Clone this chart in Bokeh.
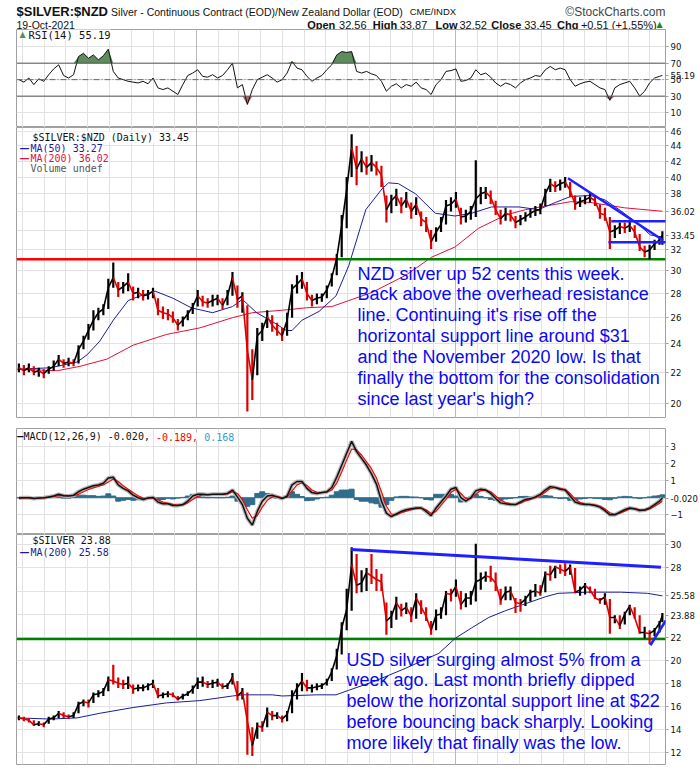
import numpy as np
import pandas as pd
from bokeh.plotting import figure
from bokeh.layouts import column
from bokeh.models import (Range1d, FixedTicker, Grid, Span, Label, LabelSet,
                          ColumnDataSource)
from bokeh.core.properties import value
from bokeh.embed import file_html
from bokeh.resources import INLINE

# ---------------- data ----------------
week_dates = pd.date_range("2019-04-26", periods=130, freq="7D").append(
    pd.DatetimeIndex(["2021-10-19"]))

nzd_close = [22.3, 22.1, 22.3, 22.0, 22.1, 21.9, 22.2, 22.4, 22.9, 22.6,
             22.7, 22.6, 23.6, 24.2, 25.0, 25.8, 26.4, 26.7, 28.5, 29.4,
             28.3, 28.6, 29.0, 28.0, 28.1, 27.8, 27.9, 28.2, 26.6, 26.4,
             26.3, 26.0, 25.4, 25.8, 26.3, 26.9, 27.8, 27.3, 27.2, 27.4,
             27.6, 27.0, 27.8, 29.4, 27.5, 27.8, 23.5, 21.5, 24.6, 25.0,
             26.1, 25.4, 25.0, 24.6, 25.8, 28.4, 28.8, 29.3, 28.0, 27.4,
             27.6, 27.7, 28.3, 29.4, 31.2, 34.5, 38.5, 43.8, 41.0, 42.3,
             41.2, 41.8, 41.2, 40.2, 36.2, 37.2, 37.8, 36.6, 37.4, 36.0,
             36.8, 35.2, 34.8, 32.8, 33.8, 34.6, 36.6, 36.8, 37.4, 35.4,
             35.5, 36.0, 37.4, 38.0, 38.2, 37.6, 36.2, 35.2, 35.8, 35.6,
             34.8, 35.1, 35.4, 35.8, 36.1, 36.2, 38.0, 39.2, 38.8, 39.2,
             39.4, 38.4, 36.8, 37.1, 37.3, 37.6, 37.2, 35.8, 35.6, 33.8,
             34.0, 34.4, 34.2, 34.5, 33.8, 32.3, 31.8, 32.0, 32.6, 33.0,
             33.45]
nzd_high = [22.6, 22.5, 22.6, 22.4, 22.3, 22.2, 22.4, 22.8, 23.2, 22.9,
            23.0, 22.9, 23.9, 24.6, 25.5, 26.6, 26.8, 27.1, 29.3, 30.8,
            29.0, 29.0, 29.8, 28.6, 28.5, 28.3, 28.3, 28.5, 27.6, 26.9,
            26.7, 26.5, 25.9, 26.1, 26.6, 27.2, 28.3, 27.8, 27.6, 27.9,
            27.9, 27.6, 28.3, 29.9, 28.7, 28.1, 27.0, 23.6, 25.2, 25.6,
            26.6, 26.2, 25.6, 25.2, 26.4, 28.8, 29.6, 29.9, 29.0, 27.9,
            28.0, 28.0, 28.7, 29.8, 31.6, 35.6, 40.0, 45.6, 44.0, 43.3,
            42.6, 42.8, 42.0, 41.4, 37.8, 37.9, 38.6, 37.6, 38.2, 37.0,
            37.6, 36.0, 35.4, 34.0, 34.3, 35.4, 37.3, 37.6, 38.2, 36.4,
            36.2, 36.6, 42.1, 38.8, 38.8, 38.4, 37.2, 36.2, 36.4, 36.2,
            35.5, 35.6, 35.9, 36.3, 36.6, 36.9, 38.6, 39.8, 39.5, 39.7,
            40.0, 39.4, 37.8, 37.6, 37.8, 38.1, 37.8, 36.8, 36.4, 35.4,
            34.5, 34.8, 34.8, 34.9, 34.5, 33.6, 32.4, 32.5, 33.0, 33.4,
            33.87]
nzd_low = [22.0, 21.8, 22.0, 21.8, 21.7, 21.6, 21.9, 22.1, 22.4, 22.3,
           22.4, 22.4, 22.6, 23.6, 24.3, 25.0, 25.8, 26.2, 26.7, 28.5,
           27.7, 28.0, 28.2, 27.4, 27.6, 27.4, 27.5, 27.6, 26.2, 25.9,
           25.8, 25.6, 25.0, 25.3, 25.8, 26.3, 26.9, 26.9, 26.8, 26.9,
           27.0, 26.7, 27.0, 27.8, 26.8, 26.4, 19.5, 20.2, 21.8, 24.2,
           25.2, 24.9, 24.6, 24.2, 24.6, 26.0, 28.0, 28.4, 27.4, 26.9,
           27.1, 27.3, 27.6, 28.6, 29.6, 31.3, 34.2, 40.0, 39.0, 40.6,
           40.3, 40.7, 40.2, 38.8, 34.8, 35.8, 36.6, 35.8, 36.4, 35.2,
           35.6, 34.4, 33.8, 32.1, 32.8, 33.8, 34.6, 36.0, 36.4, 34.6,
           34.8, 35.1, 35.4, 36.8, 37.4, 36.8, 35.6, 34.6, 35.0, 34.9,
           34.2, 34.5, 34.9, 35.3, 35.5, 35.7, 36.6, 38.2, 38.2, 38.4,
           38.7, 37.6, 36.2, 36.5, 36.8, 37.0, 36.6, 35.2, 35.0, 32.1,
           33.2, 33.6, 33.7, 33.8, 33.2, 31.9, 31.3, 31.1, 32.0, 32.5,
           32.52]

nzd_ma50_dates = ["2019-04-24", "2019-06-09", "2019-07-17", "2019-07-31", "2019-08-18",
                  "2019-09-06", "2019-09-27", "2019-10-14", "2019-11-04", "2019-11-29",
                  "2019-12-25", "2020-01-24", "2020-02-21", "2020-03-06", "2020-03-26",
                  "2020-04-17", "2020-05-07", "2020-05-15", "2020-05-29", "2020-06-22",
                  "2020-07-16", "2020-08-03", "2020-08-27", "2020-09-19", "2020-09-28",
                  "2020-10-12", "2020-11-05", "2020-12-03", "2020-12-31", "2021-01-23",
                  "2021-02-20", "2021-03-31", "2021-04-27", "2021-05-21", "2021-06-12",
                  "2021-07-10", "2021-07-30", "2021-08-21", "2021-09-14", "2021-10-02",
                  "2021-10-19"]
nzd_ma50 = [22.2, 22.3, 22.7, 23.2, 24.2, 25.8, 27.4, 27.8, 28.2, 27.6,
            26.8, 26.4, 26.9, 27.5, 26.4, 25.7, 25.0, 25.0, 25.8, 26.5,
            27.8, 30.5, 36.2, 38.6, 39.3, 39.2, 38.0, 35.8, 35.5, 35.8,
            36.5, 36.5, 36.2, 37.0, 37.7, 37.8, 37.3, 36.1, 34.7, 33.5,
            33.27]

nzd_ma200_dates = ["2019-04-24", "2019-06-19", "2019-07-21", "2019-08-28", "2019-10-04",
                   "2019-11-20", "2020-01-06", "2020-02-21", "2020-03-20", "2020-05-01",
                   "2020-06-04", "2020-07-10", "2020-08-03", "2020-09-05", "2020-10-22",
                   "2020-11-28", "2020-12-31", "2021-02-02", "2021-03-12", "2021-04-09",
                   "2021-05-07", "2021-06-12", "2021-07-10", "2021-08-27", "2021-10-19"]
nzd_ma200 = [22.2, 22.1, 22.4, 22.9, 23.9, 24.7, 25.2, 26.0, 26.4, 26.6,
             26.8, 26.9, 27.4, 28.1, 29.6, 31.3, 32.3, 34.2, 35.6, 36.2,
             36.6, 37.1, 37.0, 36.4, 36.02]

rsi = [50, 47, 52, 44, 51, 48, 56, 63, 68, 55,
       52, 56, 78, 82, 76, 80, 74, 79, 87, 60,
       52, 50, 48, 47, 46, 48, 45, 52, 40, 38,
       40, 36, 32, 44, 55, 58, 62, 54, 53, 56,
       52, 55, 62, 70, 40, 44, 20, 38, 50, 53,
       56, 52, 47, 50, 58, 72, 64, 62, 54, 48,
       52, 55, 62, 68, 80, 84, 83, 84, 60, 58,
       60, 57, 55, 48, 36, 42, 45, 40, 44, 42,
       47, 40, 38, 32, 44, 50, 60, 61, 63, 48,
       49, 52, 62, 56, 58, 53, 46, 42, 46, 44,
       40, 46, 50, 52, 55, 54, 62, 66, 62, 64,
       62, 50, 42, 45, 47, 48, 44, 40, 38, 25,
       40, 44, 46, 48, 40, 30, 36, 46, 52, 54,
       55.19]

macd = [-0.02, 0.0, 0.0, -0.05, -0.02, 0.0, 0.05, 0.1, 0.2, 0.12,
        0.1, 0.15, 0.35, 0.5, 0.6, 0.7, 0.75, 0.85, 1.15, 1.2,
        0.75, 0.55, 0.4, 0.15, 0.0, -0.1, -0.02, 0.02, -0.25, -0.35,
        -0.35, -0.45, -0.45, -0.4, -0.2, 0.1, 0.2, 0.2, 0.18, 0.2,
        0.2, 0.2, 0.25, 0.45, 0.05, -0.4, -1.2, -1.6, -0.8, -0.2,
        0.1, 0.15, 0.05, -0.05, 0.1, 0.75, 0.95, 0.95, 0.55, 0.3,
        0.25, 0.3, 0.35, 0.6, 1.2, 1.9, 2.6, 3.3, 2.7, 2.3,
        1.9, 1.4, 0.8, -0.2, -0.9, -1.1, -0.95, -0.8, -0.7, -0.65,
        -0.6, -0.6, -0.8, -1.05, -0.6, -0.25, 0.1, 0.5, 0.6, 0.0,
        -0.2, 0.0, 0.4, 0.5, 0.45, 0.25, -0.05, -0.3, -0.35, -0.4,
        -0.4, -0.25, -0.1, -0.05, 0.05, 0.2, 0.45, 0.65, 0.6, 0.5,
        0.45, 0.1, -0.25, -0.35, -0.4, -0.4, -0.45, -0.55, -0.75, -1.0,
        -1.0, -0.85, -0.7, -0.6, -0.65, -0.75, -0.72, -0.6, -0.4, -0.2,
        -0.02]
macd_signal = [-0.02, -0.01, 0.0, -0.02, -0.03, -0.01, 0.02, 0.06, 0.12, 0.14,
               0.12, 0.12, 0.2, 0.35, 0.48, 0.58, 0.67, 0.75, 0.92, 1.1,
               0.95, 0.7, 0.5, 0.3, 0.12, -0.02, -0.03, 0.0, -0.12, -0.25,
               -0.32, -0.38, -0.43, -0.42, -0.3, -0.1, 0.08, 0.16, 0.18, 0.19,
               0.2, 0.2, 0.22, 0.35, 0.25, -0.1, -0.7, -1.2, -1.05, -0.55,
               -0.15, 0.05, 0.08, 0.0, 0.02, 0.4, 0.75, 0.88, 0.72, 0.45,
               0.32, 0.3, 0.32, 0.45, 0.85, 1.5, 2.2, 2.85, 2.8, 2.5,
               2.1, 1.7, 1.15, 0.35, -0.5, -0.95, -1.0, -0.88, -0.78, -0.7,
               -0.64, -0.6, -0.7, -0.92, -0.8, -0.45, -0.1, 0.3, 0.5, 0.25,
               -0.05, -0.05, 0.2, 0.42, 0.45, 0.35, 0.1, -0.15, -0.28, -0.36,
               -0.4, -0.32, -0.18, -0.1, 0.0, 0.12, 0.32, 0.55, 0.6, 0.55,
               0.48, 0.25, -0.08, -0.28, -0.36, -0.4, -0.42, -0.5, -0.65, -0.88,
               -0.97, -0.9, -0.78, -0.66, -0.64, -0.7, -0.72, -0.65, -0.5, -0.32,
               -0.189]
macd_hist = [0.0, 0.01, 0.0, -0.03, 0.01, 0.01, 0.03, 0.04, 0.08, -0.02,
             -0.02, 0.03, 0.15, 0.15, 0.12, 0.12, 0.08, 0.1, 0.23, 0.1,
             -0.2, -0.15, -0.1, -0.15, -0.12, -0.08, 0.01, 0.02, -0.13, -0.1,
             -0.03, -0.07, -0.02, 0.02, 0.1, 0.2, 0.12, 0.04, 0.0, 0.01,
             0.0, 0.0, 0.03, 0.1, -0.2, -0.3, -0.5, -0.4, 0.25, 0.35,
             0.25, 0.1, -0.03, -0.05, 0.08, 0.35, 0.2, 0.07, -0.17, -0.15,
             -0.07, 0.0, 0.03, 0.15, 0.35, 0.45, 0.45, 0.5, -0.1, -0.2,
             -0.2, -0.3, -0.35, -0.55, -0.4, -0.15, 0.05, 0.08, 0.08, 0.05,
             0.04, 0.0, -0.1, -0.13, 0.2, 0.2, 0.2, 0.2, 0.1, -0.25,
             -0.15, 0.05, 0.2, 0.08, 0.0, -0.1, -0.15, -0.15, -0.07, -0.04,
             0.0, 0.07, 0.08, 0.05, 0.05, 0.08, 0.13, 0.1, 0.0, -0.05,
             -0.03, -0.15, -0.17, -0.07, -0.04, 0.0, -0.03, -0.05, -0.1, -0.12,
             -0.03, 0.05, 0.08, 0.06, -0.01, -0.05, 0.0, 0.05, 0.1, 0.12,
             0.168]

usd_close = [15.0, 14.9, 14.8, 14.4, 14.5, 14.4, 14.9, 15.0, 15.4, 15.2,
             15.1, 15.2, 16.2, 16.4, 16.3, 17.0, 17.1, 17.3, 18.3, 18.2,
             18.0, 17.9, 18.0, 17.5, 17.6, 17.6, 17.8, 18.0, 16.9, 17.0,
             17.1, 17.0, 16.6, 16.9, 17.1, 17.5, 18.1, 18.1, 17.9, 18.0,
             18.1, 17.7, 17.8, 18.5, 16.9, 17.3, 14.7, 12.6, 14.3, 14.2,
             15.5, 15.2, 15.2, 14.9, 15.3, 16.8, 17.6, 18.2, 17.6, 17.6,
             17.7, 17.8, 18.1, 19.0, 20.4, 22.8, 24.4, 28.3, 26.5, 26.7,
             27.6, 27.3, 27.0, 26.8, 23.4, 23.8, 25.0, 24.3, 24.6, 23.8,
             25.4, 24.6, 23.8, 22.6, 23.9, 24.0, 25.8, 25.7, 26.4, 24.8,
             25.4, 25.4, 26.8, 27.0, 27.3, 27.2, 26.7, 25.2, 25.9, 26.0,
             25.0, 24.9, 25.3, 25.9, 26.0, 25.8, 27.5, 27.4, 28.1, 27.9,
             27.7, 28.1, 25.9, 26.1, 26.5, 26.1, 25.4, 25.2, 25.5, 23.7,
             23.7, 23.0, 24.0, 24.7, 23.7, 22.4, 22.4, 22.3, 22.6, 23.2,
             23.88]
usd_high = [15.2, 15.1, 15.0, 14.8, 14.7, 14.6, 15.1, 15.2, 15.6, 15.5,
            15.3, 15.5, 16.4, 16.6, 16.6, 17.2, 17.4, 17.6, 18.6, 19.6,
            18.5, 18.3, 18.6, 17.9, 17.9, 17.9, 18.0, 18.3, 17.6, 17.2,
            17.3, 17.2, 16.9, 17.1, 17.3, 17.8, 18.5, 18.6, 18.2, 18.3,
            18.4, 18.0, 18.0, 18.9, 18.2, 17.6, 17.2, 14.2, 14.6, 14.7,
            15.9, 15.6, 15.5, 15.2, 15.6, 17.4, 18.0, 18.9, 18.3, 17.9,
            18.0, 18.0, 18.4, 19.3, 21.0, 23.3, 26.2, 29.8, 29.2, 27.8,
            28.0, 29.2, 27.9, 27.5, 25.0, 24.3, 25.5, 24.9, 25.0, 24.6,
            25.8, 25.2, 24.6, 23.4, 24.4, 24.6, 26.0, 26.2, 27.0, 26.0,
            25.8, 26.0, 30.1, 27.6, 27.7, 28.2, 27.6, 26.2, 26.4, 26.4,
            25.4, 25.3, 25.6, 26.1, 26.6, 26.5, 27.7, 28.2, 28.2, 28.3,
            28.4, 28.3, 28.0, 26.4, 26.7, 26.4, 26.2, 25.4, 25.8, 25.3,
            23.9, 23.9, 24.2, 24.8, 24.6, 23.9, 22.9, 22.6, 22.8, 23.4,
            24.1]
usd_low = [14.8, 14.7, 14.6, 14.3, 14.3, 14.2, 14.5, 14.8, 15.0, 15.0,
           14.9, 15.0, 15.4, 16.0, 15.9, 16.3, 16.8, 16.9, 17.3, 17.9,
           17.6, 17.5, 17.5, 17.1, 17.3, 17.3, 17.4, 17.6, 16.7, 16.7,
           16.8, 16.8, 16.5, 16.6, 16.9, 17.1, 17.5, 17.7, 17.6, 17.6,
           17.7, 17.5, 17.5, 17.9, 16.5, 16.6, 11.8, 11.7, 13.2, 13.8,
           14.2, 14.8, 14.9, 14.6, 14.7, 15.4, 16.6, 17.3, 17.3, 17.2,
           17.4, 17.5, 17.8, 18.2, 19.2, 20.5, 22.6, 24.3, 25.8, 25.9,
           26.0, 26.6, 26.0, 26.0, 22.2, 22.8, 23.5, 23.8, 24.0, 23.3,
           23.6, 24.0, 23.4, 22.2, 22.6, 23.6, 23.9, 25.1, 25.5, 24.4,
           24.6, 24.8, 25.1, 26.1, 26.8, 26.8, 26.0, 24.8, 25.2, 25.2,
           24.1, 24.2, 24.7, 25.1, 25.5, 25.6, 25.9, 26.9, 27.1, 27.5,
           27.3, 27.4, 25.8, 25.6, 25.7, 25.8, 25.3, 24.9, 24.8, 22.3,
           23.2, 22.7, 23.1, 23.9, 23.6, 22.3, 21.9, 21.4, 22.1, 22.4,
           23.3]

usd_ma200_dates = ["2019-04-24", "2019-06-09", "2019-07-17", "2019-08-18", "2019-10-04",
                   "2019-11-20", "2020-01-06", "2020-02-21", "2020-03-06", "2020-04-17",
                   "2020-05-01", "2020-06-18", "2020-07-16", "2020-08-03", "2020-09-05",
                   "2020-10-22", "2020-12-08", "2020-12-31", "2021-01-23", "2021-02-16",
                   "2021-03-12", "2021-04-09", "2021-05-07", "2021-05-25", "2021-07-06",
                   "2021-08-21", "2021-09-28", "2021-10-19"]
usd_ma200 = [15.0, 14.9, 15.0, 15.4, 15.9, 16.3, 16.5, 16.9, 17.0, 17.0,
             16.9, 17.0, 17.0, 17.4, 18.1, 19.3, 20.6, 21.9, 22.8, 23.7,
             24.3, 24.9, 25.5, 25.8, 25.9, 25.9, 25.8, 25.58]

# drawn annotation lines (endpoints)
nzd_support = 31.1
nzd_support_break = "2020-07-17"
nzd_trend_dates = ["2021-06-08", "2021-10-20"]
nzd_trend_vals = [39.86, 32.96]
nzd_box_top_dates = ["2021-08-08", "2021-10-24"]
nzd_box_top_vals = [34.93, 34.93]
nzd_box_bot_dates = ["2021-08-04", "2021-10-24"]
nzd_box_bot_vals = [32.76, 32.76]
usd_support = 21.83
usd_trend_dates = ["2020-08-06", "2021-10-17"]
usd_trend_vals = [29.6, 28.06]
usd_up_dates = ["2021-10-02", "2021-10-24"]
usd_up_vals = [21.3, 23.45]

month_starts = pd.date_range("2019-05-01", "2021-10-01", freq="MS")
month_labels = ["M", "J", "J", "A", "S", "O", "N", "D", "20", "F", "M", "A",
                "M", "J", "J", "A", "S", "O", "N", "D", "21", "F", "M", "A",
                "M", "J", "J", "A", "S", "O"]
rsi_ticks = [10, 30, 50, 70, 90]
price_ticks = [20, 22, 24, 26, 28, 30, 32, 34, 36, 38, 40, 42, 44, 46]
macd_ticks = [-1, 1, 2, 3]
usd_ticks = [12, 14, 16, 18, 20, 22, 24, 26, 28, 30]
# last values shown on the right-hand scales
rsi_last = {55.19: "55.19"}
nzd_last = {36.02: "36.02", 33.45: "33.45"}
macd_last = {-0.02: "-0.020"}
usd_last = {25.58: "25.58", 23.88: "23.88"}

# ---------------- helpers ----------------
def ms(d):
    return pd.Timestamp(d).value / 1e6

month_ms = [ms(d) for d in month_starts]
year_ms = [ms(d) for d, l in zip(month_starts, month_labels) if l in ("20", "21")]

xr = Range1d(ms("2019-04-22 14:00"), ms("2021-10-23 10:00"))
GRID = "#e2e2e2"
BLUE_TXT = "#0a0af2"
TICK_FONT = "DejaVu Sans"
LEG_FONT = "DejaVu Sans Mono"
HDR_FONT = "Liberation Sans"


def base_fig(h, top, bottom, yr, ticks, last, log=False):
    p = figure(width=700, height=h, x_range=xr, y_range=yr,
               y_axis_type="log" if log else "linear",
               x_axis_location=None, y_axis_location="right",
               toolbar_location=None, output_backend="svg",
               min_border_left=16, min_border_right=32,
               min_border_top=top, min_border_bottom=bottom)
    p.outline_line_color = "#a0a0a0"
    p.border_fill_color = "white"
    p.background_fill_color = "white"
    for g in p.xgrid:
        g.visible = False
    # axis labels: regular ticks not hidden by a last-value tag, plus the tags
    shown = [t for t in ticks if all(abs(t - v) > (yr.end - yr.start) * 0.035 if not log
                                     else abs(np.log10(t / v)) > 0.012 for v in last)]
    p.yaxis.ticker = FixedTicker(ticks=sorted(shown + list(last)))
    p.yaxis.major_label_overrides = {k: v for k, v in last.items()}
    p.yaxis.axis_line_color = None
    p.yaxis.major_tick_out = 3
    p.yaxis.major_tick_in = 0
    p.yaxis.major_tick_line_color = "#a0a0a0"
    p.yaxis.minor_tick_line_color = None
    p.yaxis.major_label_text_font = TICK_FONT
    p.yaxis.major_label_text_font_size = "8.5px"
    p.yaxis.major_label_text_color = "#111111"
    p.yaxis.major_label_standoff = 2
    p.ygrid.ticker = FixedTicker(ticks=ticks)
    p.ygrid.grid_line_color = GRID
    p.add_layout(Grid(dimension=0, ticker=FixedTicker(ticks=month_ms),
                      grid_line_color=GRID))
    p.add_layout(Grid(dimension=0, ticker=FixedTicker(ticks=year_ms),
                      grid_line_color="#b8b8b8"))
    return p


def label(p, text, x, y, size="10px", color="#111111", font=LEG_FONT,
          style="normal", align="left", baseline="middle", xu="screen",
          yu="screen", bg=None, border=None, **kw):
    lb = Label(x=x, y=y, x_units=xu, y_units=yu, text=text,
               text_font=font, text_font_size=size, text_color=color,
               text_font_style=style, text_align=align, text_baseline=baseline,
               background_fill_color=bg, border_line_color=border, **kw)
    p.add_layout(lb)
    return lb


def month_axis(p, y):
    reg = [(m, l) for m, l in zip(month_starts, month_labels) if l not in ("20", "21")]
    yrs = [(m, l) for m, l in zip(month_starts, month_labels) if l in ("20", "21")]
    s1 = ColumnDataSource(dict(x=[r[0] for r in reg], t=[r[1] for r in reg]))
    s2 = ColumnDataSource(dict(x=[r[0] for r in yrs], t=[r[1] for r in yrs]))
    p.add_layout(LabelSet(x="x", y=y, y_units="screen", text="t", source=s1,
                          text_align="center", text_baseline="middle",
                          text_font=value(TICK_FONT), text_font_size="9px",
                          text_color="#222222"))
    p.add_layout(LabelSet(x="x", y=y, y_units="screen", text="t", source=s2,
                          text_align="center", text_baseline="middle",
                          text_font=value(TICK_FONT), text_font_size="10px",
                          text_font_style="bold", text_color="#111111"))


def updown_colors(c):
    cols = ["black"]
    for i in range(1, len(c)):
        cols.append("#dd0000" if c[i] < c[i - 1] else "black")
    return cols


def price_marks(p, close, high, low):
    cols = updown_colors(close)
    p.segment(x0=week_dates, y0=low, x1=week_dates, y1=high, color=cols,
              line_width=2.2)
    p.segment(x0=week_dates[:-1], y0=close[:-1], x1=week_dates[1:],
              y1=close[1:], color=cols[1:], line_width=1.6)


# ---------------- header strip (frame spans x = 16..668 like the panels) ----------------
ph = figure(width=700, height=29, x_range=Range1d(16, 668), y_range=Range1d(29, 0),
            x_axis_location=None, y_axis_location=None, toolbar_location=None,
            output_backend="svg", min_border_left=16, min_border_right=32,
            min_border_top=0, min_border_bottom=0, outline_line_color=None)
for g in ph.grid:
    g.visible = False


def htext(x, y, t, size, font=HDR_FONT, style="normal", color="#111111", align="left"):
    ph.text(x=[x], y=[y], text=[t], text_font=value(font), text_font_size=size,
            text_font_style=style, text_color=color, text_align=align,
            text_baseline="middle")


htext(16, 10.5, "$SILVER:$NZD", "13px", style="bold")
htext(111, 11, "Silver - Continuous Contract (EOD)/New Zealand Dollar (EOD)", "10.5px")
htext(411, 11, "CME/INDX", "9.5px")
htext(668, 11, "\u00a9StockCharts.com", "12px", color="#444444", align="right")
htext(16, 24, "19-Oct-2021", "10.5px")
hdr = [("Open", 308, True), ("32.56", 340, False), ("High", 374, True),
       ("33.87", 401, False), ("Low", 437, True), ("32.52", 461, False),
       ("Close", 493, True), ("33.45", 526, False), ("Chg", 559, True),
       ("+0.51 (+1.55%)", 583, False)]
for t, x, b in hdr:
    htext(x, 24, t, "11px", style="bold" if b else "normal")
htext(659, 24, "\u25b2", "8px", font="DejaVu Sans", color="#1a8a1a")

# ---------------- RSI panel ----------------
p1 = base_fig(98, 0, 0, Range1d(-8, 110.8), rsi_ticks, rsi_last)
rsi_arr = np.array(rsi, dtype=float)
p1.varea(x=week_dates, y1=70, y2=np.maximum(rsi_arr, 70), color="#5d8c5d")
p1.varea(x=week_dates, y1=30, y2=np.minimum(rsi_arr, 30), color="#b8666a")
p1.add_layout(Span(location=70, dimension="width", line_color="#555555", line_width=1))
p1.add_layout(Span(location=30, dimension="width", line_color="#555555", line_width=1))
p1.add_layout(Span(location=50, dimension="width", line_color="#666666",
                   line_width=1, line_dash="6 2 1 2"))
p1.line(week_dates, rsi, color="#111111", line_width=1)
label(p1, "RSI(14) 55.19", 12, 93, size="10.5px", bg="white")
label(p1, "\u25b2", 3, 93, size="8px", color="#5d8c5d", font="DejaVu Sans")

# ---------------- price panel (NZD, log) ----------------
p2 = base_fig(301, 0, 11, Range1d(19.15, 46.56), price_ticks, nzd_last, log=True)
p2.line(pd.to_datetime(nzd_ma200_dates), nzd_ma200, color="#e0103c", line_width=1)
p2.line(pd.to_datetime(nzd_ma50_dates), nzd_ma50, color="#1c1ca0", line_width=1)
p2.line([xr.start, ms(nzd_support_break)], [nzd_support, nzd_support],
        color="#ff0000", line_width=2.5)
p2.line([ms(nzd_support_break), xr.end], [nzd_support, nzd_support],
        color="#008000", line_width=2.5)
price_marks(p2, nzd_close, nzd_high, nzd_low)
for d, v in [(nzd_trend_dates, nzd_trend_vals), (nzd_box_top_dates, nzd_box_top_vals),
             (nzd_box_bot_dates, nzd_box_bot_vals)]:
    p2.line(pd.to_datetime(d), v, color="#1f1fff", line_width=2.6)
label(p2, "$SILVER:$NZD (Daily) 33.45", 16, 280.5, bg="white")
label(p2, "\u2014", 3, 269.3, color="#1c1ca0", style="bold", font="DejaVu Sans")
label(p2, "MA(50) 33.27", 14, 269.3, color="#1c1ca0", bg="white")
label(p2, "\u2014", 3, 258.7, color="#e0103c", style="bold", font="DejaVu Sans")
label(p2, "MA(200) 36.02", 14, 258.7, color="#e0103c", bg="white")
label(p2, "Volume undef", 14, 248.7, color="#555555", bg="white")
label(p2, "NZD silver up 52 cents this week.\nBack above the overhead resistance\n"
      "line. Continuing it's rise off the\nhorizontal support line around $31\n"
      "and the November 2020 low. Is that\nfinally the bottom for the consolidation\n"
      "since last year's high?", 341, 154, size="18px", font="Liberation Sans",
      color=BLUE_TXT, baseline="top", text_line_height=1.045)
month_axis(p2, -5.5)

# ---------------- MACD panel ----------------
p3 = base_fig(106, 0, 0, Range1d(-2.15, 4.05), macd_ticks, macd_last)
p3.vbar(x=week_dates, top=macd_hist, bottom=0, width=7 * 86400000,
        color="#2f6d8c", line_color="#2f6d8c")
p3.line(week_dates, macd, color="#b5b5b5", line_width=4)
p3.line(week_dates, macd_signal, color="#ff0000", line_width=1.2)
p3.line(week_dates, macd, color="#111111", line_width=1.5)
label(p3, "\u2014", 0, 98, color="#111111", style="bold", font="DejaVu Sans")
label(p3, "MACD(12,26,9) -0.020,", 7, 98, bg="white")
label(p3, "-0.189,", 139.5, 98, color="#ff0000", bg="white")
label(p3, "0.168", 187.7, 98, color="#3399cc", bg="white")

# ---------------- USD silver panel ----------------
p4 = base_fig(246, 0, 16, Range1d(10.96, 30.9), usd_ticks, usd_last)
p4.line([xr.start, xr.end], [usd_support, usd_support], color="#008000", line_width=2.5)
p4.line(pd.to_datetime(usd_ma200_dates), usd_ma200, color="#1c1c9a", line_width=1)
price_marks(p4, usd_close, usd_high, usd_low)
p4.line(pd.to_datetime(usd_trend_dates), usd_trend_vals, color="#1f1fff", line_width=3)
p4.line(pd.to_datetime(usd_up_dates), usd_up_vals, color="#1f1fff", line_width=2.6)
label(p4, "$SILVER 23.88", 16, 224, bg="white")
label(p4, "\u2014", 3, 212.3, color="#1c1c9a", style="bold", font="DejaVu Sans")
label(p4, "MA(200) 25.58", 14, 212.3, color="#1c1c9a", bg="white")
label(p4, "USD silver surging almost 5% from a\nweek ago. Last month briefly dipped\n"
      "below the horizontal support line at $22\nbefore bouncing back sharply. Looking\n"
      "more likely that finally was the low.", 330, 115, size="18px",
      font="Liberation Sans", color=BLUE_TXT, baseline="top",
      text_line_height=1.045)
month_axis(p4, -7.5)

layout = column(ph, p1, p2, p3, p4, spacing=0)
open("out.html", "w").write(file_html(layout, INLINE))
